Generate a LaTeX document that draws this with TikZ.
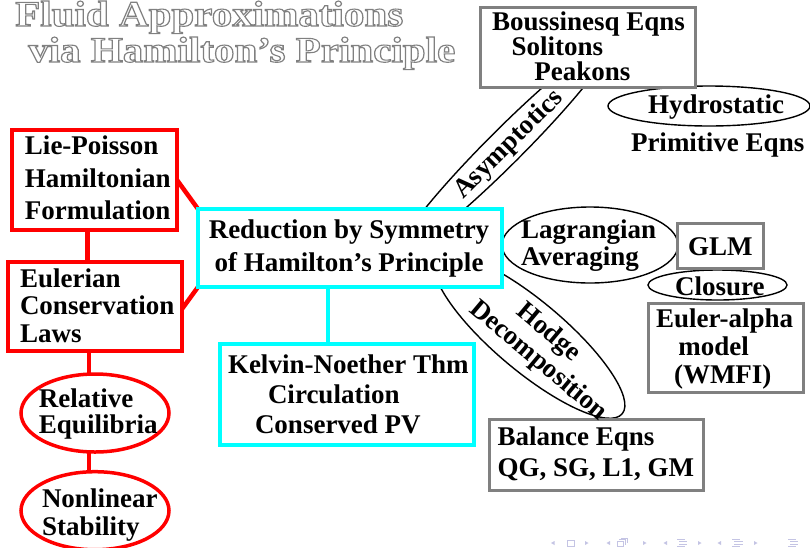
\documentclass[tikz,border=0pt]{standalone}
\usepackage{fontspec}
\setmainfont{Liberation Serif}
\usepackage{graphicx}
\usetikzlibrary{shapes.geometric}
\definecolor{boxgray}{HTML}{808080}
\definecolor{cyanc}{HTML}{00FFFF}
\definecolor{redc}{HTML}{FF0000}
\definecolor{navc}{HTML}{C4C4E4}
\pgfdeclarelayer{back}
\pgfdeclarelayer{bg}
\pgfsetlayers{back,bg,main}
\newcommand{\outlinetext}[1]{{\color{boxgray}\special{pdf:literal direct 1 Tr 1.1 w}#1\special{pdf:literal direct 0 Tr}}}
\begin{document}
\begin{tikzpicture}[x=1pt,y=-1pt,
  lbl/.style={inner sep=0pt, outer sep=0pt, align=left, font=\bfseries\fontsize{27}{#1}\selectfont},
  lbl/.default=30,
  bx/.style={rectangle, inner sep=0pt, outer sep=0pt, fill=white},
  redbox/.style={bx, draw=redc, line width=3.5pt},
  cyanbox/.style={bx, draw=cyanc, line width=3.5pt},
  graybox/.style={bx, draw=boxgray, line width=3pt},
  redell/.style={ellipse, inner sep=0pt, outer sep=0pt, draw=redc, line width=3.5pt, fill=white},
  blkell/.style={ellipse, inner sep=0pt, outer sep=0pt, draw=black, line width=1.4pt},
  redline/.style={draw=redc, line width=4.5pt},
  cyanline/.style={draw=cyanc, line width=4pt},
  navline/.style={draw=navc, line width=0.8pt},
  titletxt/.style={anchor=base west, inner sep=0pt, font=\bfseries\fontsize{36}{40}\selectfont}
]
\begin{pgfonlayer}{back}
\fill[white] (0,0) rectangle (810,547);
\end{pgfonlayer}
\useasboundingbox (0,0) rectangle (810,547);

% title
\node[titletxt] (title1) at (15,26) {\scalebox{1.14}[1]{\outlinetext{Fluid Approximations}}};
\node[titletxt] (title2) at (28,62) {\scalebox{1.14}[1]{\outlinetext{via Hamilton’s Principle}}};

% black ellipses (behind boxes)
\node[blkell, rotate=45, minimum width=300, minimum height=35] (asym) at (505,147) {};
\node[blkell, rotate=-40, minimum width=242, minimum height=70] (hodge) at (529.5,336) {};
\node[blkell, minimum width=176, minimum height=76] (lagr) at (590,245) {};
\node[blkell, minimum width=202, minimum height=40] (hydro) at (709,106) {};
\node[blkell, minimum width=139, minimum height=30] (clos) at (717.5,285) {};

% boxes
\node[redbox, minimum width=165, minimum height=100] (lp) at (94.5,180) {};
\node[redbox, minimum width=174, minimum height=89] (eu) at (95,306.5) {};
\node[redell, minimum width=148, minimum height=78] (rel) at (95,413) {};
\node[redell, minimum width=148, minimum height=78] (nl) at (95,510.7) {};
\node[cyanbox, minimum width=304, minimum height=78] (rd) at (350,248) {};
\node[cyanbox, minimum width=254, minimum height=101] (kn) at (347,394.5) {};
\node[graybox, minimum width=215, minimum height=80] (bq) at (587.5,47) {};
\node[graybox, minimum width=86, minimum height=45] (glm) at (720,245.5) {};
\node[graybox, minimum width=155, minimum height=89] (ea) at (725.5,347.5) {};
\node[graybox, minimum width=214, minimum height=71] (ba) at (596,454.5) {};

% texts
\node[lbl=32.5] (lp-t) at (97.75,178.25) {Lie-Poisson\\Hamiltonian\\Formulation};
\node[lbl=27.5] (eu-t) at (97.25,305.35) {Eulerian\\Conservation\\Laws};
\node[lbl=26] (rel-t) at (98.25,413.8) {Relative\\Equilibria};
\node[lbl=28] (nl-t) at (99.75,514.8) {Nonlinear\\Stability};
\node[lbl=33, align=center] (rd-t) at (349,248.8) {Reduction by Symmetry\\of Hamilton’s Principle};
\node[lbl=30, anchor=west] (kn-t) at (228,394.2) {Kelvin-Noether Thm\\\hspace*{40pt}Circulation\\\hspace*{27pt}Conserved PV};
\node[lbl=24.7, anchor=west] (bq-t) at (492,46.2) {Boussinesq Eqns\\\hspace*{19.7pt}Solitons\\\hspace*{42.3pt}Peakons};
\node[lbl, anchor=base west] (hy-t) at (648,113.3) {Hydrostatic};
\node[lbl, anchor=base west] (pe-t) at (631,151.7) {Primitive Eqns};
\node[lbl=26.7, anchor=west] (la-t) at (521,245.5) {Lagrangian\\Averaging};
\node[lbl, anchor=base west] (glm-t) at (688,255) {GLM};
\node[lbl, anchor=base west] (cl-t) at (675,295) {Closure};
\node[lbl=28, anchor=west] (ea-t) at (656,348.5) {Euler-alpha\\\hspace*{22.3pt}model\\\hspace*{18pt}(WMFI)};
\node[lbl=31, anchor=west] (ba-t) at (497.5,453.7) {Balance Eqns\\QG, SG, L1, GM};
\node[lbl, rotate=45] (as-t) at (509,145) {Asymptotics};
\node[lbl, rotate=-40] (ho-t1) at (548,333) {Hodge};
\node[lbl, rotate=-40] (ho-t2) at (538,361) {Decomposition};

% connectors
\begin{pgfonlayer}{bg}
\draw[redline] ([xshift=-7pt]lp.south) -- ([xshift=-7pt]lp.south |- eu.north);
\draw[redline] (lp.east) -- (rd.north west);
\draw[redline] ([yshift=-2.5pt]eu.east) -- (rd.south west);
\draw[redline] ([xshift=-6pt]eu.south) -- ([xshift=-6pt]eu.south |- rel.north);
\draw[redline] ([xshift=-6pt]rel.south) -- ([xshift=-6pt]rel.south |- nl.north);
\draw[cyanline] ([xshift=-22pt]rd.south) -- ([xshift=-22pt]rd.south |- kn.north);
\end{pgfonlayer}

% navigation symbols
\fill[navc] (551,543) -- (554.5,541) -- (554.5,545) -- cycle;
\draw[navline] (567,540) rectangle (574,546);
\fill[navc] (588.5,543) -- (585,541) -- (585,545) -- cycle;
\fill[navc] (606.5,543) -- (610,541) -- (610,545) -- cycle;
\draw[navline] (617,541) rectangle (623,546);
\draw[navline] (619,539.5) -- (625,539.5) -- (625,544.5);
\draw[navline] (621,538) -- (627,538) -- (627,543);
\fill[navc] (646.5,543) -- (643,541) -- (643,545) -- cycle;
\fill[navc] (663.5,543) -- (667,541) -- (667,545) -- cycle;
\draw[navline] (677,539) -- (685,539) (679,541.5) -- (687,541.5) (679,544) -- (687,544) (677,546) -- (685,546);
\fill[navc] (701.5,543) -- (698,541) -- (698,545) -- cycle;
\fill[navc] (717.5,543) -- (721,541) -- (721,545) -- cycle;
\draw[navline] (732,539) -- (740,539) (734,541.5) -- (743,541.5) (734,544) -- (743,544) (732,546) -- (740,546);
\fill[navc] (757.5,543) -- (754,541) -- (754,545) -- cycle;
\draw[navline] (788,539) -- (796,539) (790,541.5) -- (798,541.5) (790,544) -- (798,544) (788,546) -- (796,546);
\end{tikzpicture}
\end{document}
